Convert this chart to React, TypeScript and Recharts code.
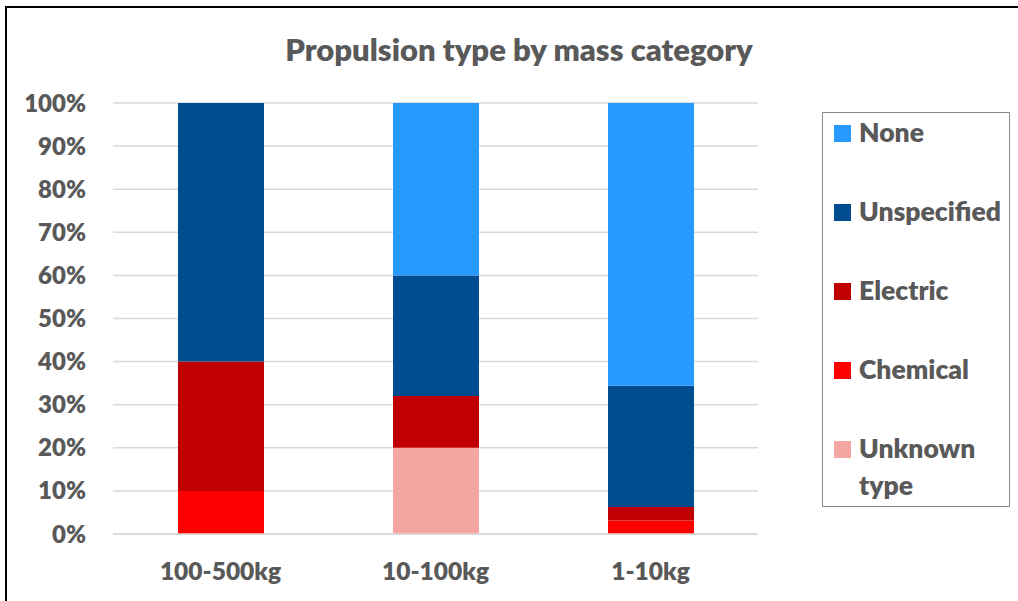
import React from "react";
import { BarChart, Bar, XAxis, YAxis, CartesianGrid } from "recharts";

const categories = ["100-500kg", "10-100kg", "1-10kg"];
const unknownType = [0, 20, 0];
const chemical = [10, 0, 3.125];
const electric = [30, 12, 3.125];
const unspecified = [60, 28, 28.125];
const none = [0, 40, 65.625];
const yTicks = [0, 10, 20, 30, 40, 50, 60, 70, 80, 90, 100];

const series = [
  { key: "unknown", name: "Unknown type", color: "#F4A6A3", values: unknownType },
  { key: "chemical", name: "Chemical", color: "#FF0000", values: chemical },
  { key: "electric", name: "Electric", color: "#C00000", values: electric },
  { key: "unspecified", name: "Unspecified", color: "#004C91", values: unspecified },
  { key: "none", name: "None", color: "#2899FF", values: none },
];

const data = categories.map((c, i) => {
  const row: Record<string, any> = { category: c };
  series.forEach((s) => (row[s.key] = s.values[i]));
  return row;
});

const FONT = "Lato, 'Open Sans', sans-serif";
const GRAY = "#595959";

export default function App() {
  const legendItems = [...series].reverse();
  return (
    <div
      style={{
        position: "absolute",
        left: 0,
        top: 0,
        width: 1018,
        height: 601,
        background: "#fff",
        fontFamily: FONT,
        overflow: "hidden",
      }}
    >
      <div
        style={{
          position: "absolute",
          left: 5,
          top: 6,
          width: 1012,
          height: 600,
          borderLeft: "2px solid #000",
          borderTop: "2px solid #000",
        }}
      />
      <div
        style={{
          position: "absolute",
          left: 0,
          width: 1038,
          top: 29,
          textAlign: "center",
          fontSize: 31,
          fontWeight: 800,
          color: GRAY,
          lineHeight: "40px",
        }}
      >
        Propulsion type by mass category
      </div>
      <div style={{ position: "absolute", left: 0, top: 0 }}>
        <BarChart
          width={1018}
          height={601}
          data={data}
          margin={{ top: 103, right: 260, bottom: 0, left: 0 }}
        >
          <CartesianGrid vertical={false} stroke="#D9D9D9" strokeWidth={1.5} />
          <XAxis
            dataKey="category"
            axisLine={{ stroke: "#D9D9D9", strokeWidth: 1.5 }}
            tickLine={false}
            height={67}
            tickMargin={23}
            tick={{ fill: GRAY, fontSize: 24.5, fontWeight: 800, fontFamily: FONT }}
          />
          <YAxis
            width={113}
            domain={[0, 100]}
            ticks={yTicks}
            interval={0}
            axisLine={false}
            tickLine={false}
            tickMargin={21}
            tickFormatter={(v: number) => `${v}%`}
            tick={{ fill: GRAY, fontSize: 24, fontWeight: 800, fontFamily: FONT }}
          />
          {series.map((s) => (
            <Bar
              key={s.key}
              dataKey={s.key}
              name={s.name}
              stackId="a"
              fill={s.color}
              barSize={86}
              isAnimationActive={false}
            />
          ))}
        </BarChart>
      </div>
      <div
        style={{
          position: "absolute",
          left: 822,
          top: 112,
          width: 186,
          height: 393,
          border: "1.5px solid #888",
        }}
      >
        {legendItems.map((s, i) => (
          <div
            key={s.key}
            style={{
              position: "absolute",
              left: 11,
              top: 1 + i * 79,
              display: "flex",
              alignItems: "flex-start",
            }}
          >
            <div
              style={{
                width: 17,
                height: 17,
                background: s.color,
                marginTop: 11,
                marginRight: 8,
                flex: "none",
              }}
            />
            <div
              style={{
                width: 150,
                fontSize: 26.5,
                fontWeight: 800,
                color: GRAY,
                lineHeight: "37px",
              }}
            >
              {s.name}
            </div>
          </div>
        ))}
      </div>
    </div>
  );
}
